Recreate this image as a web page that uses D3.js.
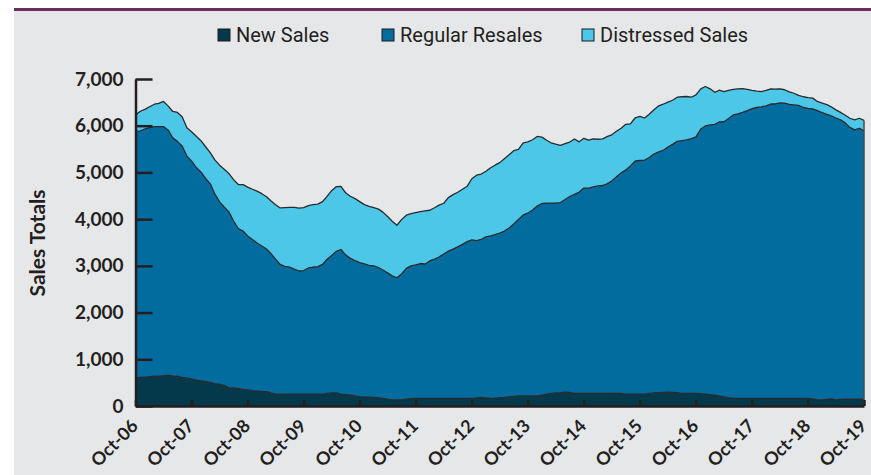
<!DOCTYPE html>
<html>
<head>
<meta charset="utf-8">
<script src="https://cdn.jsdelivr.net/npm/d3@7"></script>
<style>
  body { margin: 0; background: #fff; }
</style>
</head>
<body>
<script>
// Chart data // ---------------------------------------------------------------
var seriesNames = ["New Sales", "Regular Resales", "Distressed Sales"];
var firstMonth = "Oct-06"; // series are monthly, starting here
var tickLabels = ["Oct-06","Oct-07","Oct-08","Oct-09","Oct-10","Oct-11","Oct-12",
                  "Oct-13","Oct-14","Oct-15","Oct-16","Oct-17","Oct-18","Oct-19"];
var yTicks = [0, 1000, 2000, 3000, 4000, 5000, 6000, 7000];

var newSales = [
  600,610,620,630,640,640,650,655,645,640,
  610,595,580,555,540,525,505,480,465,440,
  395,385,375,355,345,330,320,310,305,280,
  255,255,255,255,255,255,255,255,255,255,
  255,270,280,280,255,245,230,215,200,195,
  190,185,180,165,145,130,130,130,145,155,
  165,165,165,165,165,165,165,165,165,165,
  165,165,165,175,185,175,165,170,180,185,
  195,205,215,215,215,215,215,235,255,270,
  280,285,295,290,270,270,270,270,270,270,
  270,270,270,270,270,255,255,255,255,255,
  270,280,285,290,295,290,285,270,270,270,
  270,265,255,245,235,215,195,180,170,165,
  165,165,165,165,165,165,165,165,165,165,
  165,165,165,165,165,150,130,130,140,150,
  130,140,145,145,145,145,145
];

var regularResales = [
  5280,5280,5310,5330,5340,5340,5330,5255,5095,5025,
  4955,4755,4665,4550,4470,4345,4250,4060,3905,3820,
  3760,3575,3425,3390,3295,3235,3170,3115,3055,2985,
  2890,2775,2735,2720,2675,2635,2645,2700,2715,2730,
  2775,2865,2940,3030,3095,2990,2930,2900,2870,2845,
  2820,2815,2785,2745,2705,2655,2615,2695,2800,2845,
  2855,2885,2875,2940,2980,3025,3090,3150,3195,3240,
  3295,3355,3390,3365,3380,3445,3475,3500,3520,3560,
  3615,3690,3780,3875,3915,3980,4065,4100,4090,4075,
  4065,4070,4125,4195,4260,4310,4395,4395,4420,4440,
  4450,4485,4545,4635,4720,4795,4885,4990,5000,5010,
  5050,5115,5155,5180,5250,5310,5380,5410,5425,5455,
  5490,5665,5740,5775,5795,5865,5890,5975,6060,6090,
  6120,6160,6200,6225,6240,6260,6300,6300,6325,6320,
  6290,6280,6270,6225,6205,6210,6195,6150,6105,6060,
  6035,5985,5915,5820,5765,5800,5745
];

var distressedSales = [
  350,420,420,445,480,500,540,515,565,620,
  625,605,625,670,670,680,665,730,785,810,
  820,885,940,995,1045,1075,1110,1120,1120,1130,
  1165,1210,1255,1275,1320,1345,1345,1335,1340,1335,
  1345,1345,1390,1385,1350,1330,1330,1325,1305,1270,
  1265,1245,1250,1240,1205,1170,1125,1165,1140,1120,
  1120,1110,1135,1085,1100,1110,1085,1145,1165,1170,
  1180,1185,1310,1400,1400,1405,1460,1485,1510,1550,
  1570,1570,1500,1545,1525,1505,1490,1420,1345,1290,
  1260,1225,1195,1165,1185,1075,1065,1025,1030,1000,
  1000,1010,990,975,955,980,900,925,945,900,
  925,945,985,990,960,945,945,940,930,885,
  900,860,845,770,685,680,645,600,550,535,
  510,455,390,350,325,330,325,320,300,285,
  270,250,215,230,230,230,195,205,205,195,
  175,160,165,195,215,215,225
];

// Layout // -------------------------------------------------------------------
var W = 871, H = 475;
var colors = ["#03394a", "#036c9f", "#4cc7e8"];
var ink = "#231f20";
var font = "Lato, 'Open Sans', sans-serif";

var parseMonth = d3.timeParse("%b-%y");
var start = parseMonth(firstMonth);

// build rows for the stack
var data = newSales.map(function(v, i) {
  var row = { date: d3.timeMonth.offset(start, i) };
  row[seriesNames[0]] = v;
  row[seriesNames[1]] = regularResales[i];
  row[seriesNames[2]] = distressedSales[i];
  return row;
});

var x = d3.scaleTime()
          .domain([parseMonth(tickLabels[0]), parseMonth(tickLabels[tickLabels.length - 1])])
          .range([135.5, 864]);
var y = d3.scaleLinear().domain([0, 7000]).range([406, 79]);

var svg = d3.select("body").append("svg")
            .attr("width", W)
            .attr("height", H)
            .style("display", "block");

// grey panel + purple rule
svg.append("rect").attr("x", 14).attr("y", 10).attr("width", W - 14).attr("height", H - 10)
   .attr("fill", "#e6e7e9");
svg.append("rect").attr("x", 14).attr("y", 8).attr("width", W - 14).attr("height", 3)
   .attr("fill", "#6c2d5c");

// stacked areas
var stack = d3.stack().keys(seriesNames);
var layers = stack(data);

var area = d3.area()
             .x(function(d) { return x(d.data.date); })
             .y0(function(d) { return y(d[0]); })
             .y1(function(d) { return y(d[1]); });

var topLine = d3.line()
                .x(function(d) { return x(d.data.date); })
                .y(function(d) { return y(d[1]); });

svg.selectAll("path.layer")
   .data(layers)
   .enter().append("path")
   .attr("class", "layer")
   .attr("fill", function(d, i) { return colors[i]; })
   .attr("d", area);

svg.selectAll("path.edge")
   .data(layers)
   .enter().append("path")
   .attr("class", "edge")
   .attr("fill", "none")
   .attr("stroke", "#2a2a2c")
   .attr("stroke-width", 1.3)
   .attr("stroke-linejoin", "round")
   .attr("d", topLine);

// right hand closing edge of the stack
var last = data[data.length - 1];
var lastTop = layers[layers.length - 1][data.length - 1][1];
svg.append("line")
   .attr("x1", x(last.date)).attr("x2", x(last.date))
   .attr("y1", y(lastTop)).attr("y2", y(0))
   .attr("stroke", "#4a4a4c").attr("stroke-width", 1.5);

// axes
var yAxis = svg.append("g")
   .attr("transform", "translate(" + x.range()[0] + ",0)")
   .call(d3.axisLeft(y).tickValues(yTicks).tickSize(-17).tickSizeOuter(0).tickPadding(12)
           .tickFormat(d3.format(",")));
var xAxis = svg.append("g")
   .attr("transform", "translate(0," + y(0) + ")")
   .call(d3.axisBottom(x).tickValues(tickLabels.map(parseMonth)).tickSize(-6).tickSizeOuter(0)
           .tickFormat(function(d, i) { return tickLabels[i]; }));

[yAxis, xAxis].forEach(function(g) {
  g.select(".domain").attr("stroke", ink).attr("stroke-width", 2.5);
  g.selectAll(".tick line").attr("stroke", ink).attr("stroke-width", 2.5);
  g.selectAll("text").attr("fill", ink).style("font-family", font).style("font-weight", 700);
});

yAxis.selectAll("text").style("font-size", "19px");
xAxis.selectAll("text")
     .style("font-size", "18px")
     .attr("text-anchor", "end")
     .attr("y", 0).attr("dy", "0.72em")
     .attr("transform", "translate(-6,12) rotate(-45)");

// axis title
svg.append("text")
   .attr("transform", "translate(45,243) rotate(-90)")
   .attr("text-anchor", "middle")
   .attr("fill", ink)
   .style("font-family", font).style("font-weight", 700).style("font-size", "21px")
   .text("Sales Totals");

// legend
var legendX = [218, 382, 582];
var legend = svg.selectAll("g.legend")
   .data(seriesNames)
   .enter().append("g")
   .attr("class", "legend")
   .attr("transform", function(d, i) { return "translate(" + legendX[i] + ",29)"; });

legend.append("rect")
      .attr("width", 12).attr("height", 12)
      .attr("fill", function(d, i) { return colors[i]; })
      .attr("stroke", "#1d1d1f").attr("stroke-width", 1);
legend.append("text")
      .attr("x", 18).attr("y", 13)
      .attr("fill", ink)
      .style("font-family", "Roboto, sans-serif").style("font-size", "20px")
      .text(function(d) { return d; });
</script>
</body>
</html>
